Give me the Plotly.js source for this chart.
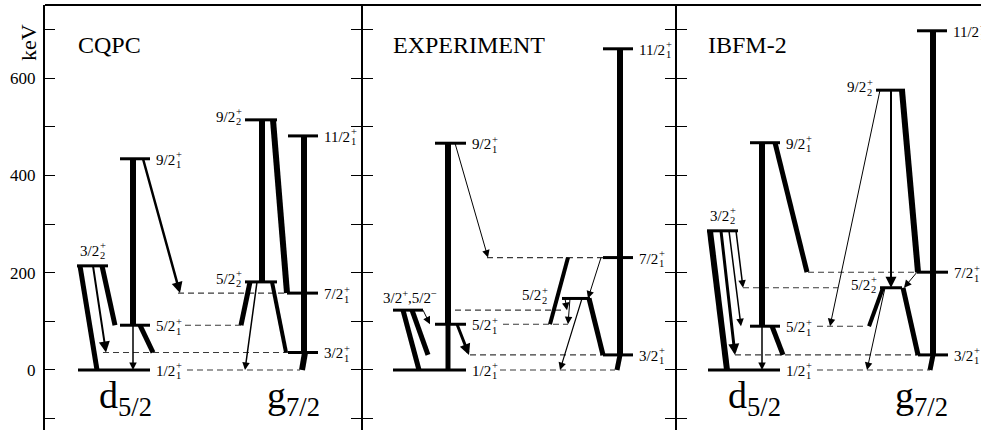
<!DOCTYPE html>
<html><head><meta charset="utf-8">
<script src="https://cdn.plot.ly/plotly-3.0.1.min.js"></script>
<style>html,body{margin:0;padding:0;background:#fff}#chart{width:981px;height:430px}</style>
</head><body><div id="chart"></div>
<script>
// ================= DATA =================
const modelNames = ['CQPC', 'EXPERIMENT', 'IBFM-2'];
const yTickVals = [-100, 0, 100, 200, 300, 400, 500, 600, 700];
const yTickText = ['', '0', '', '200', '', '400', '', '600', ''];
const orbitalLabels = ['d<sub>5/2</sub>', 'g<sub>7/2</sub>'];

// level energies (keV)
const cqpcLevels = ['1/2+_1', '5/2+_1', '9/2+_1', '3/2+_2', '3/2+_1', '7/2+_1', '11/2+_1', '5/2+_2', '9/2+_2'];
const cqpcEnergy = [0, 92, 434, 214, 36, 158, 481, 181, 514];
const expLevels = ['1/2+_1', '5/2+_1', '9/2+_1', '3/2+,5/2-', '3/2+_1', '7/2+_1', '11/2+_1', '5/2+_2'];
const expEnergy = [0, 94, 466, 123, 31, 231, 660, 147];
const ibfmLevels = ['1/2+_1', '5/2+_1', '9/2+_1', '3/2+_2', '3/2+_1', '7/2+_1', '11/2+_1', '5/2+_2', '9/2+_2'];
const ibfmEnergy = [0, 90, 467, 286, 31, 201, 697, 169, 575];

// transitions: initial level, final level, relative strength
const cqpcFrom = ['3/2+_2', '3/2+_2', '3/2+_2', '9/2+_1', '5/2+_1', '5/2+_1', '9/2+_1', '9/2+_2', '9/2+_2', '11/2+_1', '7/2+_1', '3/2+_1', '5/2+_2', '5/2+_2', '5/2+_2'];
const cqpcTo   = ['1/2+_1', '3/2+_1', '5/2+_1', '5/2+_1', '1/2+_1', '3/2+_1', '7/2+_1', '5/2+_2', '7/2+_1', '7/2+_1', '3/2+_1', '1/2+_1', '5/2+_1', '3/2+_1', '1/2+_1'];
const cqpcStrength = [5, 2, 5, 6, 1.5, 5, 2.5, 6, 6, 6, 6, 6, 5, 4, 1.5];

const expFrom = ['3/2+,5/2-', '3/2+,5/2-', '3/2+,5/2-', '9/2+_1', '5/2+_1', '5/2+_1', '9/2+_1', '11/2+_1', '7/2+_1', '3/2+_1', '7/2+_1', '5/2+_2', '5/2+_2', '5/2+_2', '5/2+_2', '7/2+_1'];
const expTo   = ['1/2+_1', '3/2+_1', '5/2+_1', '5/2+_1', '1/2+_1', '3/2+_1', '7/2+_1', '7/2+_1', '3/2+_1', '1/2+_1', '5/2+_2', '3/2+_1', '1/2+_1', '3/2+,5/2-', '5/2+_1', '5/2+_1'];
const expStrength = [5, 5, 1, 6, 5, 3, 1, 6, 6, 5, 1, 5, 1.2, 1, 1, 4];

const ibfmFrom = ['3/2+_2', '3/2+_2', '3/2+_2', '3/2+_2', '9/2+_1', '5/2+_1', '5/2+_1', '9/2+_1', '9/2+_2', '9/2+_2', '9/2+_2', '11/2+_1', '7/2+_1', '3/2+_1', '7/2+_1', '5/2+_2', '5/2+_2', '5/2+_2'];
const ibfmTo   = ['1/2+_1', '3/2+_1', '5/2+_1', '5/2+_2', '5/2+_1', '1/2+_1', '3/2+_1', '7/2+_1', '5/2+_1', '5/2+_2', '7/2+_1', '7/2+_1', '3/2+_1', '1/2+_1', '5/2+_2', '5/2+_1', '3/2+_1', '1/2+_1'];
const ibfmStrength = [6, 3, 1.5, 1.5, 6, 1.5, 5, 5, 1, 2, 6, 6, 6, 5, 1, 4, 5, 1];

// ================= LAYOUT GEOMETRY (panel-relative pixels) =================
const panelLeft = [45, 362, 676];
const geo = [
  { // CQPC
    levelX: {'1/2+_1':[33,105],'5/2+_1':[75,105],'9/2+_1':[75,105],'3/2+_2':[32,63],
             '3/2+_1':[243,273],'7/2+_1':[242,273],'11/2+_1':[243,273],'5/2+_2':[200,232],'9/2+_2':[200,232]},
    side: {'3/2+_2':'above','5/2+_2':'left','9/2+_2':'left'},
    gap: {},
    transX: [[35,52],[48,61],[57,70],[88,88],[88,88],[95,108],[98,135],[217,217],[228,242],[259,259],[259,259],[260,257],[205,196],[227,241],[212,200]],
    dashed: [['1/2+_1',142,255],['3/2+_1',58,243],['5/2+_1',140,197],['7/2+_1',133,242]],
    title: 33, orb: [54, 222]
  },
  { // EXPERIMENT
    levelX: {'1/2+_1':[31,104],'5/2+_1':[73,104],'9/2+_1':[73,104],'3/2+,5/2-':[31,61],
             '3/2+_1':[241,271],'7/2+_1':[241,271],'11/2+_1':[241,271],'5/2+_2':[200,228]},
    side: {'3/2+,5/2-':'above','5/2+_2':'left'},
    gap: {'5/2+_2': 14},
    transX: [[41,57],[50,66],[61,68],[86,86],[86,86],[95,107],[93,126],[258,258],[258,258],[258,255],[239,226],[227,241],[220,198],[203,205],[208,206],[206,188]],
    dashed: [['1/2+_1',138,253],['3/2+_1',108,241],['5/2+_1',141,206],['3/2+,5/2-',93,200],['7/2+_1',125,241]],
    title: 31, orb: null
  },
  { // IBFM-2
    levelX: {'1/2+_1':[32,104],'5/2+_1':[74,104],'9/2+_1':[74,104],'3/2+_2':[31,62],
             '3/2+_1':[242,272],'7/2+_1':[241,272],'11/2+_1':[241,271],'5/2+_2':[204,226],'9/2+_2':[200,229]},
    side: {'3/2+_2':'above','5/2+_2':'left','9/2+_2':'left'},
    gap: {},
    transX: [[34,51],[45,59],[53,65],[60,67],[86,86],[86,86],[96,107],[99,131],[204,154],[215,215],[226,242],[257,257],[257,257],[257,254],[241,228],[207,193],[227,242],[209,191]],
    dashed: [['1/2+_1',141,254],['3/2+_1',59,242],['5/2+_1',141,191],['5/2+_2',67,162],['7/2+_1',132,241]],
    title: 32, orb: [52, 219]
  }
];

const models = [
  {levels: cqpcLevels, energy: cqpcEnergy, from: cqpcFrom, to: cqpcTo, strength: cqpcStrength},
  {levels: expLevels, energy: expEnergy, from: expFrom, to: expTo, strength: expStrength},
  {levels: ibfmLevels, energy: ibfmEnergy, from: ibfmFrom, to: ibfmTo, strength: ibfmStrength}
];

// ================= BUILD =================
const FONT = 'Liberation Serif';
const MAINSZ = 15, SMALLSZ = 10.5;
const charW = {'0':.5,'1':.5,'2':.5,'3':.5,'4':.5,'5':.5,'6':.5,'7':.5,'8':.5,'9':.5,'/':.278,'+':.564,'-':.564,',':.25};
function textW(s, size) { let w = 0; for (const c of s) w += (charW[c] || .5); return w * size; }

const traces = [];
const annotations = [];

function ann(o) {
  annotations.push(Object.assign({xref:'x', yref:'y', showarrow:false, borderpad:0, borderwidth:0,
    font:{family:FONT, size:MAINSZ, color:'black'}}, o));
}

function addLabel(name, x0, x1, E, side, gap) {
  if (name.indexOf(',') >= 0) {
    const txt = name.replace(/\+/g, '<sup>+</sup>').replace(/-$/, '<sup>−</sup>');
    ann({x: (x0 + x1) / 2 + 2, y: E, yshift: 4, xanchor:'center', yanchor:'bottom', text: txt});
    return;
  }
  const m = name.match(/^([0-9\/]+)([+-])_(\d)$/);
  const main = m[1], sup = m[2] === '-' ? '−' : '+', sub = m[3];
  const mw = textW(main, MAINSZ), sw = Math.max(textW(sup, SMALLSZ), textW(sub, SMALLSZ));
  let left, dy = 0;
  if (side === 'left') { left = x0 - (gap || 3) - mw - sw - 1; dy = 4; }
  else if (side === 'above') { left = (x0 + x1) / 2 - (mw + sw) / 2; dy = 16; }
  else { left = x1 + 6; }
  ann({x: left, y: E, yshift: dy - 1, xanchor:'left', yanchor:'middle', text: main});
  ann({x: left + mw + 0.5, y: E, yshift: dy + 4, xanchor:'left', yanchor:'middle', text: sup, font:{family:FONT, size:SMALLSZ, color:'black'}});
  ann({x: left + mw + 0.5, y: E, yshift: dy - 6, xanchor:'left', yanchor:'middle', text: sub, font:{family:FONT, size:SMALLSZ, color:'black'}});
}

models.forEach((md, p) => {
  const g = geo[p], off = panelLeft[p];
  const Emap = {};
  md.levels.forEach((n, i) => Emap[n] = md.energy[i]);

  // dashed guide lines
  const dx = [], dy = [];
  g.dashed.forEach(([n, a, b]) => { dx.push(off + a, off + b, null); dy.push(Emap[n], Emap[n], null); });
  traces.push({x: dx, y: dy, mode:'lines', line:{color:'#3a3a3a', width:1.1, dash:'6px,4px'}, hoverinfo:'skip', showlegend:false});

  // levels
  const lx = [], ly = [];
  md.levels.forEach((n, i) => {
    const [a, b] = g.levelX[n];
    lx.push(off + a, off + b, null); ly.push(md.energy[i], md.energy[i], null);
    addLabel(n, off + a, off + b, md.energy[i], g.side[n] || 'right', g.gap[n]);
  });
  traces.push({x: lx, y: ly, mode:'lines', line:{color:'black', width:3}, hoverinfo:'skip', showlegend:false});

  // transitions
  md.from.forEach((f, i) => {
    const [a, b] = g.transX[i];
    const w = md.strength[i];
    const E0 = Emap[f], E1 = Emap[md.to[i]];
    if (w > 3) {
      traces.push({x: [off + a, off + b], y: [E0, E1], mode:'lines', line:{color:'black', width: w},
        hoverinfo:'skip', showlegend:false});
    } else {
      annotations.push({x: off + b, y: E1, ax: off + a, ay: E0, xref:'x', yref:'y', axref:'x', ayref:'y',
        text:'', showarrow:true, arrowhead:2, arrowsize: (w >= 2 ? 2.2 : 1.5) / w, arrowwidth: w,
        arrowcolor:'black', standoff:0, startstandoff:0, borderpad:0, borderwidth:0});
    }
  });

  // panel title
  ann({x: off + g.title, y: 668, xanchor:'left', yanchor:'middle', text: modelNames[p], font:{family:FONT, size:24, color:'black'}});
  if (g.orb) {
    g.orb.forEach((ox, k) => ann({x: off + ox, y: -57, xanchor:'left', yanchor:'middle', text: orbitalLabels[k],
      font:{family:FONT, size:38, color:'black'}}));
  }
});

annotations.push({xref:'paper', yref:'y', x: -0.017, y: 672, text:'keV', textangle:-90, showarrow:false,
  xanchor:'center', yanchor:'middle', font:{family:FONT, size:22, color:'black'}});

const yRange = [-123.3, 750];
function dividerAxis(pos, ticks) {
  return {overlaying:'y', anchor:'free', position: pos, side:'left', range: yRange, tickmode:'array',
    tickvals: yTickVals, ticktext: yTickVals.map(() => ''), ticks: ticks, ticklen: 10, tickwidth: 1,
    tickcolor:'black', showline:true, linewidth:2, linecolor:'black', showgrid:false, zeroline:false,
    showticklabels:false, fixedrange:true};
}
const plotW = 981 - 45;
['y2','y3','y4','y5'].forEach(a => traces.push({x:[null], y:[null], yaxis:a, mode:'lines', hoverinfo:'skip', showlegend:false}));

const layout = {
  width: 981, height: 430,
  margin: {l:45, r:0, t:5, b:0},
  paper_bgcolor:'white', plot_bgcolor:'white',
  showlegend:false,
  font: {family: FONT, color:'black'},
  xaxis: {range:[45, 981], visible:false, fixedrange:true},
  yaxis: {range: yRange, tickmode:'array', tickvals: yTickVals, ticktext: yTickText, ticks:'inside', ticklen:10,
    tickwidth:1, tickcolor:'black', showline:true, linewidth:2, linecolor:'black', showgrid:false, zeroline:false,
    tickfont:{family:FONT, size:17, color:'black'}, ticklabelstandoff:4, fixedrange:true},
  yaxis2: dividerAxis((362 - 45) / plotW, 'outside'),
  yaxis3: dividerAxis((362 - 45) / plotW, 'inside'),
  yaxis4: dividerAxis((676 - 45) / plotW, 'outside'),
  yaxis5: dividerAxis((676 - 45) / plotW, 'inside'),
  shapes: [{type:'line', xref:'paper', yref:'paper', x0:0, x1:1, y0:1, y1:1, line:{color:'black', width:2}}],
  annotations: annotations
};

Plotly.newPlot('chart', traces, layout, {displayModeBar:false, staticPlot:true});
</script>
</body></html>
